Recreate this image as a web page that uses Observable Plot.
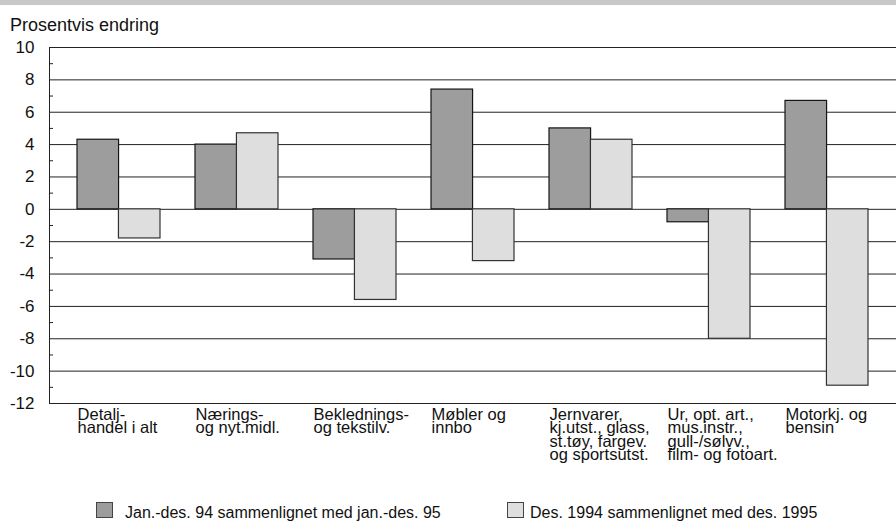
<!DOCTYPE html>
<html>
<head>
<meta charset="utf-8">
<script src="https://cdn.jsdelivr.net/npm/d3@7"></script>
<script src="https://cdn.jsdelivr.net/npm/@observablehq/plot@0.6"></script>
<style>
  html, body { margin: 0; padding: 0; background: #fff; }
  body { width: 896px; height: 526px; position: relative; overflow: hidden; font-family: "Liberation Sans", Arial, sans-serif; color: #111; }
  #stripe { position: absolute; left: 0; top: 0; width: 896px; height: 5px; background: #c8c8c8; }
  #title { position: absolute; left: 10px; top: 16px; font-size: 18px; line-height: 18px; white-space: nowrap; }
  #chart { position: absolute; left: 0; top: 0; }
  .sw { position: absolute; width: 17px; height: 16px; border: 1px solid #444; box-sizing: border-box; }
  .lt { position: absolute; font-size: 16px; line-height: 16px; white-space: nowrap; }
</style>
</head>
<body>
<div id="stripe"></div>
<div id="chart"></div>
<div id="title">Prosentvis endring</div>
<div id="legend"></div>
<script>
const categories = [
  "Detalj-\nhandel i alt",
  "Nærings-\nog nyt.midl.",
  "Beklednings-\nog tekstilv.",
  "Møbler og\ninnbo",
  "Jernvarer,\nkj.utst., glass,\nst.tøy, fargev.\nog sportsutst.",
  "Ur, opt. art.,\nmus.instr.,\ngull-/sølvv.,\nfilm- og fotoart.",
  "Motorkj. og\nbensin"
];
const seriesNames = [
  "Jan.-des. 94 sammenlignet med jan.-des. 95",
  "Des. 1994 sammenlignet med des. 1995"
];
const janDesValues = [4.3, 4.0, -3.1, 7.4, 5.0, -0.8, 6.7];
const desValues = [-1.8, 4.7, -5.6, -3.2, 4.3, -8.0, -10.9];
const yTicks = [-12, -10, -8, -6, -4, -2, 0, 2, 4, 6, 8, 10];
const yMinorTicks = [-11, -9, -7, -5, -3, -1, 1, 3, 5, 7, 9];

const colors = ["#9d9d9d", "#dedede"];

const W = 896, H = 470, ML = 49, MR = 0, MT = 47, MB = 67;
const padInner = 0.3, padOuter = 0.2275;
const step = (W - ML - MR) / (categories.length - padInner + 2 * padOuter);
const bw = step * (1 - padInner);

const rowsA = categories.map((c, i) => ({category: c, value: janDesValues[i]}));
const rowsB = categories.map((c, i) => ({category: c, value: desValues[i]}));

const chart = Plot.plot({
  width: W, height: H,
  marginLeft: ML, marginRight: MR, marginTop: MT, marginBottom: MB,
  style: {fontFamily: "'Liberation Sans', Arial, sans-serif", background: "transparent", overflow: "visible", color: "#111"},
  x: {domain: categories, paddingInner: padInner, paddingOuter: padOuter, label: null},
  y: {domain: [-12, 10], label: null},
  marks: [
    Plot.ruleY(yTicks, {stroke: "#222", strokeWidth: 1}),
    Plot.ruleY(yMinorTicks, {stroke: "#222", strokeWidth: 1, insetRight: (W - ML - MR) - 4}),
    Plot.axisY(yTicks, {tickSize: 0, tickPadding: 15, fontSize: 17, label: null, tickFormat: d => String(d)}),
    Plot.frame({anchor: "left", stroke: "#222"}),
    Plot.barY(rowsA, {x: "category", y1: 0, y2: "value", fill: colors[0], stroke: "#151515", strokeWidth: 1.2, insetRight: bw / 2}),
    Plot.barY(rowsB, {x: "category", y1: 0, y2: "value", fill: colors[1], stroke: "#333", strokeWidth: 1.2, insetLeft: bw / 2}),
    Plot.axisX({tickSize: 0, tickPadding: 7, textAnchor: "start", dx: -bw / 2, lineHeight: 0.81, fontSize: 16.5, label: null})
  ]
});
document.getElementById("chart").appendChild(chart);

const legend = document.getElementById("legend");
const legendPos = [{sw: 96, tx: 125}, {sw: 507, tx: 530}];
seriesNames.forEach((name, i) => {
  const sw = document.createElement("div");
  sw.className = "sw";
  sw.style.left = legendPos[i].sw + "px";
  sw.style.top = "502px";
  sw.style.background = colors[i];
  legend.appendChild(sw);
  const t = document.createElement("div");
  t.className = "lt";
  t.style.left = legendPos[i].tx + "px";
  t.style.top = "505px";
  t.textContent = name;
  legend.appendChild(t);
});
</script>
</body>
</html>
